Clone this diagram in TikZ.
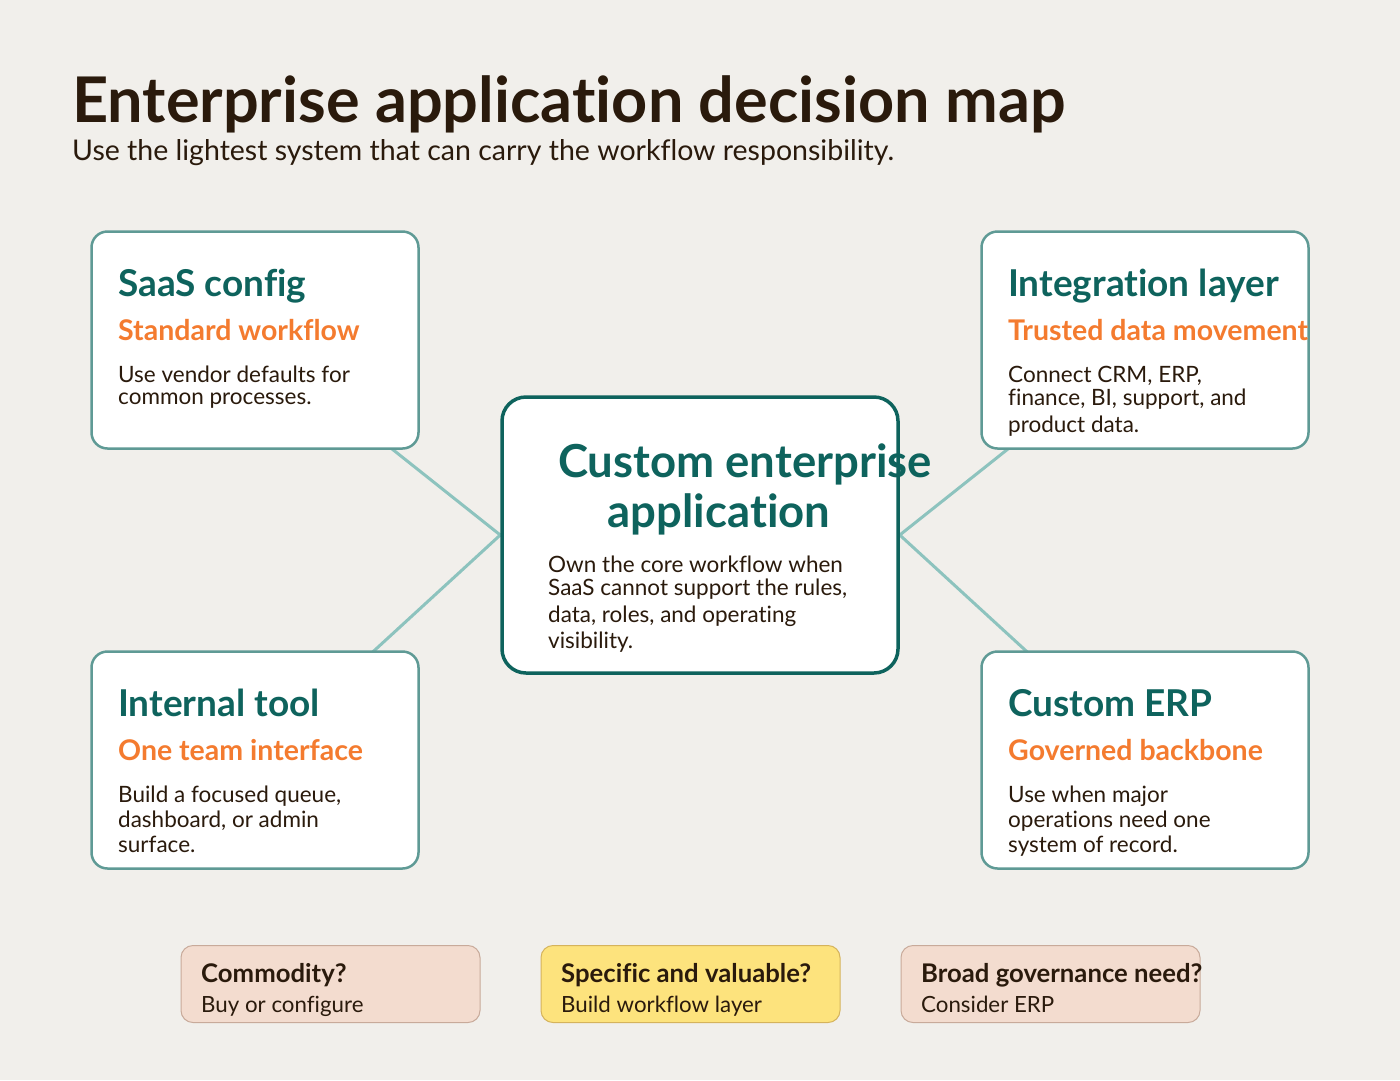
\documentclass[tikz,border=0pt]{standalone}
\usepackage{fontspec}
\setmainfont{Lato}[Ligatures={NoCommon}]
\definecolor{bgc}{HTML}{F1EFEB}
\definecolor{ink}{HTML}{2A1A0C}
\definecolor{tealc}{HTML}{0E635D}
\definecolor{orng}{HTML}{F47B2F}
\definecolor{boxline}{HTML}{5F9A95}
\definecolor{conn}{HTML}{8DC3BE}
\definecolor{pinkf}{HTML}{F3DCCF}
\definecolor{pinkl}{HTML}{C8AA9A}
\definecolor{yelf}{HTML}{FDE37D}
\definecolor{yell}{HTML}{D5B35C}
\pgfdeclarelayer{bg}
\pgfdeclarelayer{lines}
\pgfsetlayers{bg,lines,main}
\tikzset{
  card/.style={draw=boxline, line width=2.5pt, fill=white, rounded corners=16pt,
    minimum width=327pt, minimum height=217pt, inner sep=0pt},
  hub/.style={draw=tealc, line width=3.5pt, fill=white, rounded corners=24pt,
    minimum width=396pt, minimum height=276pt, inner sep=0pt},
  pill/.style={line width=1pt, rounded corners=12pt,
    minimum width=299pt, minimum height=77pt, inner sep=0pt},
  pinkpill/.style={pill, draw=pinkl, fill=pinkf},
  yelpill/.style={pill, draw=yell, fill=yelf},
  txt/.style={inner sep=0pt, anchor=base west, text=ink},
  ctitle/.style={txt, text=tealc, font=\fontsize{37}{42}\selectfont\bfseries},
  csub/.style={txt, text=orng, font=\fontsize{28.5}{32}\selectfont\bfseries},
  cbody/.style={txt, font=\fontsize{22.5}{26}\selectfont},
  ptitle/.style={txt, font=\fontsize{25.7}{30}\selectfont\bfseries},
  pbody/.style={txt, font=\fontsize{22.3}{26}\selectfont},
  link/.style={draw=conn, line width=3pt}
}
\begin{document}
\begin{tikzpicture}[x=1pt,y=-1pt]
\begin{pgfonlayer}{bg}
\fill[bgc] (0,0) rectangle (1400,1080);
\end{pgfonlayer}
\useasboundingbox (0,0) rectangle (1400,1080);

% title
\node[txt, font=\fontsize{63}{68}\selectfont\bfseries] (title) at (72,122) {Enterprise application decision map};
\node[txt, font=\fontsize{28.5}{32}\selectfont] (subtitle) at (72,160) {Use the lightest system that can carry the workflow responsibility.};

% cards
\node[card] (saas) at (255,340) {};
\node[card] (integ) at (1145,340) {};
\node[card] (internal) at (255,760) {};
\node[card] (erp) at (1145,760) {};
\node[hub] (hubbox) at (700,535) {};

% connectors
\begin{pgfonlayer}{lines}
\draw[link] (saas.center) -- (hubbox.west);
\draw[link] (internal.center) -- (hubbox.west);
\draw[link] (integ.center) -- (hubbox.east);
\draw[link] (erp.center) -- (hubbox.east);
\end{pgfonlayer}

% SaaS texts
\node[ctitle] (saasT) at (118,296) {SaaS config};
\node[csub] (saasS) at (118,340) {Standard workflow};
\node[cbody] (saasB1) at (118,382) {Use vendor defaults for};
\node[cbody] (saasB2) at (118,404) {common processes.};

% Integration texts
\node[ctitle] (integT) at (1008,296) {Integration layer};
\node[csub] (integS) at (1008,340) {Trusted data movement};
\node[cbody] (integB1) at (1008,382) {Connect CRM, ERP,};
\node[cbody] (integB2) at (1008,405) {finance, BI, support, and};
\node[cbody] (integB3) at (1008,432) {product data.};

% Internal texts
\node[ctitle] (intT) at (118,716) {Internal tool};
\node[csub] (intS) at (118,760) {One team interface};
\node[cbody] (intB1) at (118,802) {Build a focused queue,};
\node[cbody] (intB2) at (118,827) {dashboard, or admin};
\node[cbody] (intB3) at (118,852) {surface.};

% ERP texts
\node[ctitle] (erpT) at (1008,716) {Custom ERP};
\node[csub] (erpS) at (1008,760) {Governed backbone};
\node[cbody] (erpB1) at (1008,802) {Use when major};
\node[cbody] (erpB2) at (1008,827) {operations need one};
\node[cbody] (erpB3) at (1008,852) {system of record.};

% hub texts
\node[txt, anchor=base, text=tealc, font=\fontsize{45.5}{50}\selectfont\bfseries] (hubT1) at (745,477) {Custom enterprise};
\node[txt, anchor=base, text=tealc, font=\fontsize{45.5}{50}\selectfont\bfseries] (hubT2) at (719,527) {application};
\node[cbody] (hubB1) at (548,572) {Own the core workflow when};
\node[cbody] (hubB2) at (548,595) {SaaS cannot support the rules,};
\node[cbody] (hubB3) at (548,622) {data, roles, and operating};
\node[cbody] (hubB4) at (548,648) {visibility.};

% pills
\node[pinkpill] (p1) at (330.5,984) {};
\node[yelpill] (p2) at (690.5,984) {};
\node[pinkpill] (p3) at (1050.5,984) {};
\node[ptitle] (p1T) at (201,982) {Commodity?};
\node[pbody] (p1B) at (201,1012) {Buy or configure};
\node[ptitle] (p2T) at (561,982) {Specific and valuable?};
\node[pbody] (p2B) at (561,1012) {Build workflow layer};
\node[ptitle] (p3T) at (921,982) {Broad governance need?};
\node[pbody] (p3B) at (921,1012) {Consider ERP};
\end{tikzpicture}
\end{document}
